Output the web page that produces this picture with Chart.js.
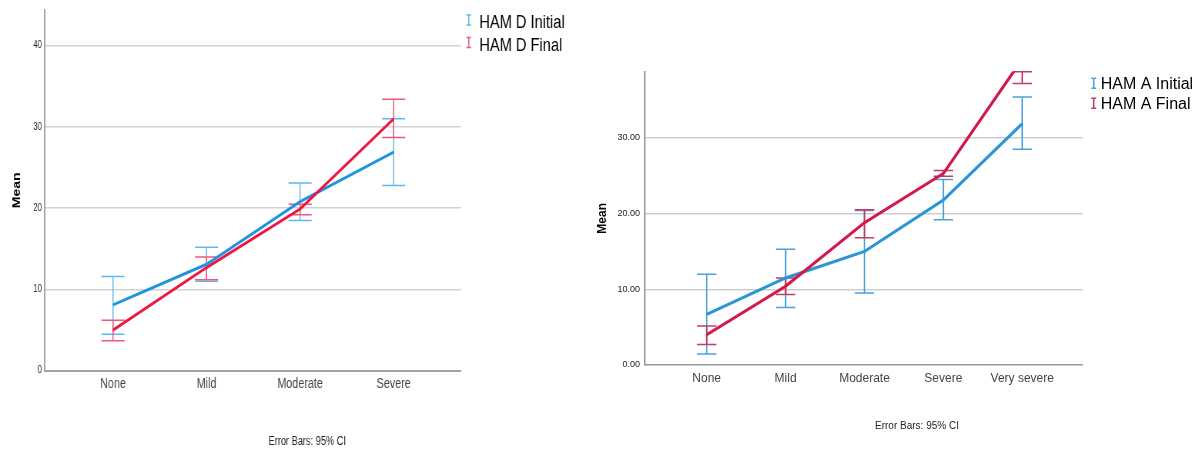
<!DOCTYPE html>
<html>
<head>
<meta charset="utf-8">
<script src="https://cdn.jsdelivr.net/npm/chart.js@4/dist/chart.umd.min.js"></script>
<style>
  html, body { margin: 0; padding: 0; background: #fff; }
  body { width: 1200px; height: 449px; position: relative; overflow: hidden; }
  /* the HAM D panel is horizontally squeezed in the original export */
  #hamdWrap { position: absolute; left: 0; top: 0; width: 766px; height: 449px; transform: scaleX(0.77); transform-origin: 0 0; }
  #hamaWrap { position: absolute; left: 590px; top: 0; width: 610px; height: 449px; }
</style>
</head>
<body>
<div id="hamdWrap"><canvas id="hamdChart" width="766" height="449"></canvas></div>
<div id="hamaWrap"><canvas id="hamaChart" width="610" height="449"></canvas></div>
<script>
// ---- HAM D (left panel) ----
const categoriesD = ["None", "Mild", "Moderate", "Severe"];
const hamDInitial = [8.1, 13.1, 20.8, 26.9];
const hamDInitialLow = [4.5, 11.0, 18.5, 22.8];
const hamDInitialHigh = [11.6, 15.2, 23.1, 31.0];
const hamDFinal = [5.0, 12.7, 19.9, 31.0];
const hamDFinalLow = [3.7, 11.2, 19.2, 28.7];
const hamDFinalHigh = [6.2, 14.0, 20.5, 33.4];
const ticksD = [0, 10, 20, 30, 40];

// ---- HAM A (right panel) ----
const categoriesA = ["None", "Mild", "Moderate", "Severe", "Very severe"];
const hamAInitial = [6.7, 11.5, 15.0, 21.8, 31.9];
const hamAInitialLow = [1.45, 7.6, 9.5, 19.2, 28.5];
const hamAInitialHigh = [12.0, 15.3, 20.4, 24.5, 35.4];
const hamAFinal = [4.0, 10.4, 18.8, 25.3, 40.4];
const hamAFinalLow = [2.7, 9.3, 16.8, 24.95, 37.2];
const hamAFinalHigh = [5.15, 11.5, 20.5, 25.7, 43.6];
const ticksA = [0, 10, 20, 30];

const footnote = "Error Bars: 95% CI";

Chart.defaults.font.family = "'Liberation Sans', Arial, sans-serif";
Chart.defaults.animation = false;

const points = arr => arr.map((v, i) => ({ x: i, y: v }));

// error bars drawn under the lines, caps clamped to the plot area
const errorBarPlugin = {
    id: "errorBars",
    beforeDatasetsDraw(chart, args, opts) {
        const { ctx, chartArea, scales: { x, y } } = chart;
        const half = opts.capWidth / 2;
        ctx.save();
        ctx.beginPath();
        ctx.rect(chartArea.left, chartArea.top - 3, chartArea.width, chartArea.height + 3);
        ctx.clip();
        chart.data.datasets.forEach(ds => {
            ctx.strokeStyle = ds.barColor;
            ctx.lineWidth = opts.lineWidth;
            ds.low.forEach((lo, i) => {
                const px = x.getPixelForValue(i);
                const top = Math.max(y.getPixelForValue(ds.high[i]), chartArea.top);
                const bot = Math.min(y.getPixelForValue(lo), chartArea.bottom);
                ctx.beginPath();
                ctx.moveTo(px, top); ctx.lineTo(px, bot);
                ctx.moveTo(px - half, top); ctx.lineTo(px + half, top);
                ctx.moveTo(px - half, bot); ctx.lineTo(px + half, bot);
                ctx.stroke();
            });
        });
        ctx.restore();
    }
};

// legend with little error-bar glyphs + the footnote
const sideLegendPlugin = {
    id: "sideLegend",
    afterDraw(chart, args, opts) {
        const { ctx } = chart;
        ctx.save();
        const list = chart.data.datasets.slice().sort((a, b) => a.legendRow - b.legendRow);
        list.forEach((ds, i) => {
            const sy = opts.symY + i * opts.rowGap;
            const ty = opts.textY + i * opts.rowGap;
            ctx.strokeStyle = ds.barColor;
            ctx.lineWidth = 1.5;
            ctx.beginPath();
            ctx.moveTo(opts.symX, sy - opts.symH / 2); ctx.lineTo(opts.symX, sy + opts.symH / 2);
            ctx.moveTo(opts.symX - opts.symW / 2, sy - opts.symH / 2); ctx.lineTo(opts.symX + opts.symW / 2, sy - opts.symH / 2);
            ctx.moveTo(opts.symX - opts.symW / 2, sy + opts.symH / 2); ctx.lineTo(opts.symX + opts.symW / 2, sy + opts.symH / 2);
            ctx.stroke();
            ctx.font = opts.font;
            ctx.fillStyle = "#000";
            ctx.textAlign = "left";
            ctx.textBaseline = "middle";
            ctx.fillText(ds.label, opts.textX, ty);
        });
        ctx.font = opts.noteFont;
        ctx.fillStyle = "#222";
        ctx.textAlign = "center";
        ctx.textBaseline = "middle";
        ctx.fillText(footnote, opts.noteX, opts.noteY);
        ctx.restore();
    }
};

const makeChart = (id, p) => new Chart(document.getElementById(id), {
    type: "line",
    data: {
        datasets: [
            {
                label: p.labels[0], data: points(p.initial), low: p.initialLow, high: p.initialHigh,
                borderColor: p.blue, barColor: p.blueBar, borderWidth: 3, pointRadius: 0,
                tension: 0, order: 1, legendRow: 0
            },
            {
                label: p.labels[1], data: points(p.final), low: p.finalLow, high: p.finalHigh,
                borderColor: p.red, barColor: p.redBar, borderWidth: 3, pointRadius: 0,
                tension: 0, order: 0, legendRow: 1
            }
        ]
    },
    options: {
        responsive: false,
        devicePixelRatio: 1,
        layout: { padding: p.padding },
        plugins: {
            legend: { display: false },
            tooltip: { enabled: false },
            errorBars: p.errorBars,
            sideLegend: p.legend
        },
        scales: {
            x: {
                type: "linear", min: p.xMin, max: p.xMax,
                afterBuildTicks: s => { s.ticks = p.categories.map((_, i) => ({ value: i })); },
                afterFit: s => { s.height = p.xHeight; },
                ticks: {
                    callback: v => p.categories[v], autoSkip: false, maxRotation: 0,
                    font: { size: p.xFont }, color: "#444", padding: p.xPad
                },
                grid: { display: false, drawTicks: false },
                border: { display: true, color: p.axisColor, width: p.axisWidth }
            },
            y: {
                min: 0, max: p.yMax,
                afterBuildTicks: s => { s.ticks = p.yTicks.map(v => ({ value: v })); },
                afterFit: s => { s.width = p.yWidth; },
                ticks: {
                    callback: p.yFormat, font: { size: p.yFont }, color: "#222", padding: p.yPad
                },
                grid: {
                    color: c => c.tick && c.tick.value === 0 ? "rgba(0,0,0,0)" : p.gridColor,
                    lineWidth: 1.5, drawTicks: false
                },
                border: { color: p.axisColor, width: p.axisWidth },
                title: {
                    display: true, text: "Mean", color: "#000",
                    font: { size: p.titleFont, weight: "bold" },
                    padding: { top: p.titlePad, bottom: 0 }
                }
            }
        }
    },
    plugins: [errorBarPlugin, sideLegendPlugin]
});

makeChart("hamdChart", {
    categories: categoriesD, labels: ["HAM D Initial", "HAM D Final"],
    initial: hamDInitial, initialLow: hamDInitialLow, initialHigh: hamDInitialHigh,
    final: hamDFinal, finalLow: hamDFinalLow, finalHigh: hamDFinalHigh,
    blue: "#1e94e0", blueBar: "#62b6ec", red: "#ec1642", redBar: "#f0587a",
    padding: { left: 0, top: 8, right: 167.3, bottom: 0 },
    xMin: -0.727, xMax: 3.72, xHeight: 78.3, xFont: 14, xPad: 5,
    yMax: 44.4, yTicks: ticksD, yFormat: v => String(v), yWidth: 58.4, yFont: 10, yPad: 4,
    titleFont: 14, titlePad: 13.6,
    axisColor: "#a4a4a4", axisWidth: 2, gridColor: "#d2d2d2",
    errorBars: { capWidth: 30, lineWidth: 1.5 },
    legend: {
        symX: 608.7, symY: 20, symW: 6, symH: 10, textX: 622.5, textY: 23, rowGap: 22.5,
        font: "19px 'Liberation Sans', Arial, sans-serif",
        noteFont: "12px 'Liberation Sans', Arial, sans-serif", noteX: 399, noteY: 441.7
    }
});

makeChart("hamaChart", {
    categories: categoriesA, labels: ["HAM A Initial", "HAM A Final"],
    initial: hamAInitial, initialLow: hamAInitialLow, initialHigh: hamAInitialHigh,
    final: hamAFinal, finalLow: hamAFinalLow, finalHigh: hamAFinalHigh,
    blue: "#2b96d6", blueBar: "#4aa3d8", red: "#d41a4a", redBar: "#c83a66",
    padding: { left: 0, top: 71.7, right: 117.3, bottom: 0 },
    xMin: -0.782, xMax: 4.766, xHeight: 84, xFont: 12, xPad: 6,
    yMax: 38.75, yTicks: ticksA, yFormat: v => v.toFixed(2), yWidth: 55, yFont: 9, yPad: 5,
    titleFont: 12, titlePad: 5.5,
    axisColor: "#9a9a9a", axisWidth: 1.5, gridColor: "#cdcdcd",
    errorBars: { capWidth: 19.4, lineWidth: 1.5 },
    legend: {
        symX: 503.7, symY: 83.3, symW: 5, symH: 10, textX: 510.7, textY: 84.3, rowGap: 20,
        font: "16px 'Liberation Sans', Arial, sans-serif",
        noteFont: "10px 'Liberation Sans', Arial, sans-serif", noteX: 327, noteY: 426.7
    }
});
</script>
</body>
</html>
